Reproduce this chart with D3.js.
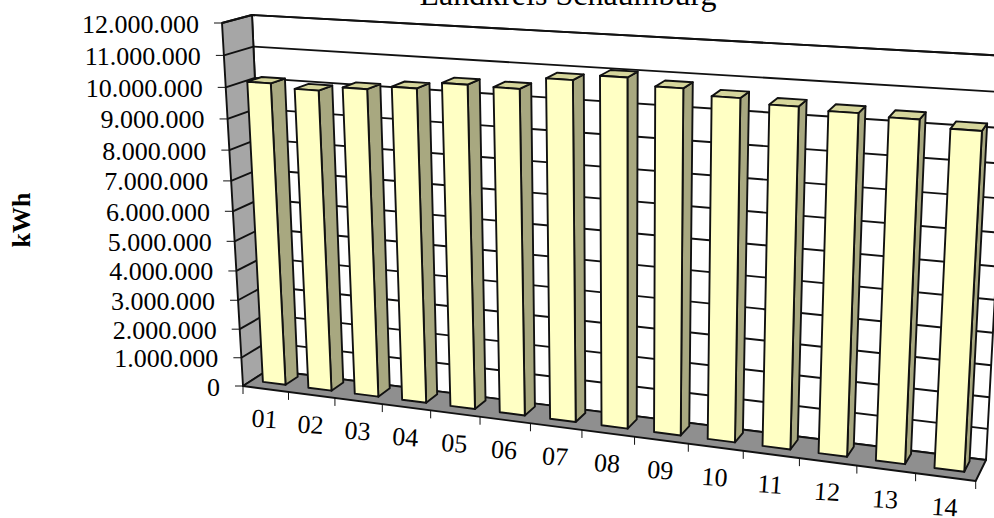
<!DOCTYPE html>
<html>
<head>
<meta charset="utf-8">
<script src="https://cdnjs.cloudflare.com/ajax/libs/d3/7.8.5/d3.min.js"></script>
<style>
html,body{margin:0;padding:0;background:#fff;overflow:hidden}
svg{display:block}
text{font-family:"Liberation Serif","Times New Roman",serif;fill:#000}
</style>
</head>
<body>
<svg id="chart" width="994" height="518"></svg>
<script>
const categories = ["01","02","03","04","05","06","07","08","09","10","11","12","13","14"];
const consumption = [10100000,9980000,10130000,10260000,10480000,10460000,10830000,11010000,10800000,10630000,10500000,10430000,10370000,10170000];
const yTicks = d3.range(0, 12000001, 1000000);
const chartTitle = "Landkreis Schaumburg";
const yTitle = "kWh";

const svg = d3.select("#chart");

// Corners of the plot box on screen, indexed by [column][depth][height].
// column 0 = left, depth 0 = back wall, height 0 = floor.
const box = [
  [[[268,370],[252,15]], [[243,386],[222,23]]],
  [[[986,460],[1008,56]], [[975.7,481],[998,70]]]
];
// Perspective weights along each axis of the box.
const persp = {u:-0.135, w:-0.03, v:-0.07};

function project(u, w, v) {
  let sx = 0, sy = 0, sh = 0;
  [0,1].forEach(i => [0,1].forEach(j => [0,1].forEach(k => {
    const t = (i ? u : 1-u) * (j ? w : 1-w) * (k ? v : 1-v);
    const h = 1 + persp.u*i + persp.w*j + persp.v*k;
    sx += t*h*box[i][j][k][0];
    sy += t*h*box[i][j][k][1];
    sh += t*h;
  })));
  return [sx/sh, sy/sh];
}

const vScale = d3.scaleLinear().domain([0, 12000000]).range([0, 1]);
const uScale = d3.scaleBand().domain(categories).range([0, 1]).paddingInner(0.5).paddingOuter(0.25);
const uEdge = d3.scaleBand().domain(categories).range([0, 1]);
const fmt = d3.formatLocale({decimal:",",thousands:".",grouping:[3],currency:["","€"]}).format(",.0f");
const path = d3.line();

const ink = "#111";
const lineW = 1.9;

function face(pts, fill, sw) {
  svg.append("path")
    .attr("d", path(pts) + "Z")
    .attr("fill", fill)
    .attr("stroke", ink)
    .attr("stroke-width", sw === undefined ? lineW : sw)
    .attr("stroke-linejoin", "round");
}
function seg(a, b, sw) {
  svg.append("line")
    .attr("x1", a[0]).attr("y1", a[1]).attr("x2", b[0]).attr("y2", b[1])
    .attr("stroke", ink).attr("stroke-width", sw === undefined ? lineW : sw);
}

// Walls and floor
face([project(0,0,0),project(1,0,0),project(1,0,1),project(0,0,1)], "#ffffff");
face([project(0,1,0),project(0,0,0),project(0,0,1),project(0,1,1)], "#a6a6a6");
face([project(0,1,0),project(1,1,0),project(1,0,0),project(0,0,0)], "#8f8f8f");

// Gridlines on back and side walls, with ticks and value labels
yTicks.forEach(t => {
  const v = vScale(t);
  if (t > 0) {
    seg(project(0,0,v), project(1,0,v));
    seg(project(0,1,v), project(0,0,v));
  }
  const p = project(0,1,v);
  seg([p[0]-8, p[1]], p, 1);
  svg.append("text")
    .attr("x", p[0]-23).attr("y", p[1]+1)
    .attr("text-anchor", "end")
    .attr("dominant-baseline", "central")
    .attr("font-size", 26)
    .text(fmt(t));
});

// Category ticks along the front edge of the floor
d3.range(0, categories.length+1).forEach(i => {
  const p = project(i/categories.length, 1, 0);
  seg(p, [p[0], p[1]+8], 1);
});
categories.forEach(c => {
  const p = project(uEdge(c)+uEdge.bandwidth()/2, 1, 0);
  svg.append("text")
    .attr("text-anchor", "middle")
    .attr("dominant-baseline", "central")
    .attr("font-size", 26)
    .attr("transform", `translate(${p[0]-1},${p[1]+30}) rotate(4)`)
    .text(c);
});

// Bars, left to right so each one overlaps the side of its neighbour correctly
const wBack = 0.16, wFront = 0.66;
categories.forEach((c, i) => {
  const u0 = uScale(c), u1 = u0 + uScale.bandwidth();
  const v = vScale(consumption[i]);
  face([project(u1,wFront,0),project(u1,wBack,0),project(u1,wBack,v),project(u1,wFront,v)], "#a8a880");
  face([project(u0,wFront,v),project(u1,wFront,v),project(u1,wBack,v),project(u0,wBack,v)], "#d6d69c");
  face([project(u0,wFront,0),project(u1,wFront,0),project(u1,wFront,v),project(u0,wFront,v)], "#ffffc4");
});

// Titles
svg.append("text").attr("x", 568).attr("y", 5)
  .attr("text-anchor", "middle").attr("font-size", 32).text(chartTitle);
svg.append("text")
  .attr("transform", "translate(30,220) rotate(-90)")
  .attr("text-anchor", "middle").attr("font-size", 26).attr("font-weight", "bold").text(yTitle);
</script>
</body>
</html>
